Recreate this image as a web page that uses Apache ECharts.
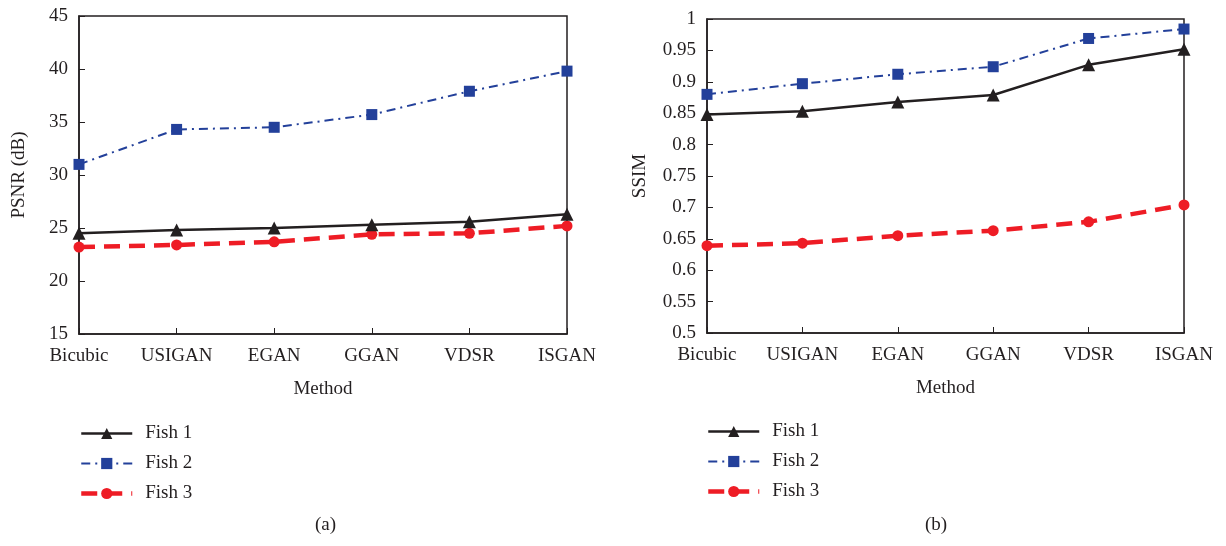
<!DOCTYPE html>
<html>
<head>
<meta charset="utf-8">
<script src="https://cdn.jsdelivr.net/npm/echarts@6/dist/echarts.min.js"></script>
<style>
html,body{margin:0;padding:0;background:#fff;}
#main{width:1226px;height:546px;}
</style>
</head>
<body>
<div id="main"></div>
<script>
let methods=["Bicubic","USIGAN","EGAN","GGAN","VDSR","ISGAN"];
let names=["Fish 1","Fish 2","Fish 3"];
let psnr1=[24.5,24.8,25.0,25.3,25.6,26.3];
let psnr2=[31.0,34.3,34.5,35.7,37.9,39.8];
let psnr3=[23.2,23.4,23.7,24.4,24.5,25.2];
let ssim1=[0.848,0.853,0.868,0.879,0.927,0.952];
let ssim2=[0.880,0.897,0.912,0.924,0.969,0.984];
let ssim3=[0.639,0.643,0.655,0.663,0.677,0.704];

let font="Liberation Serif";
let fs=19;
let ink="#231f20";
// one look per fish, same in both panels
let looks=[
	{color:ink,line:{width:2.5,type:"solid"},symbol:"triangle",size:13},
	{color:"#23409a",line:{width:2,type:[9,5,2,5]},symbol:"rect",size:11},
	{color:"#ee1c25",line:{width:4.5,type:[16,9]},symbol:"circle",size:11}
];

function mkSeries(data,i,idx){
	let l=looks[i];
	return {
		name:names[i],
		type:"line",
		xAxisIndex:idx,
		yAxisIndex:idx,
		data:data,
		symbol:l.symbol,
		symbolSize:l.size,
		showAllSymbol:true,
		itemStyle:{color:l.color},
		lineStyle:{color:l.color,width:l.line.width,type:l.line.type},
		z:10-i
	};
}

function xAx(idx){
	return {
		type:"category",
		gridIndex:idx,
		data:methods,
		boundaryGap:false,
		name:"Method",
		nameLocation:"middle",
		nameGap:46,
		nameTextStyle:{fontFamily:font,fontSize:fs,color:ink},
		axisLine:{lineStyle:{color:ink,width:1.5}},
		axisTick:{inside:true,length:6,lineStyle:{color:ink,width:1}},
		axisLabel:{fontFamily:font,fontSize:fs,color:ink,margin:13,interval:0},
		splitLine:{show:false}
	};
}

function yAx(idx,min,max,step,name,gap){
	return {
		type:"value",
		gridIndex:idx,
		min:min,max:max,interval:step,
		name:name,
		nameLocation:"middle",
		nameGap:gap,
		nameTextStyle:{fontFamily:font,fontSize:fs,color:ink},
		axisLine:{show:true,lineStyle:{color:ink,width:1.5}},
		axisTick:{show:true,inside:true,length:6,lineStyle:{color:ink,width:1}},
		axisLabel:{fontFamily:font,fontSize:fs,color:ink,margin:11},
		splitLine:{show:false}
	};
}

// legend icons drawn with the full series line width
let legendData=names.map(function(n,i){
	return {name:n,lineStyle:{width:looks[i].line.width,type:looks[i].line.type,color:looks[i].color}};
});
let legendBase={
	orient:"vertical",
	data:legendData,
	itemWidth:51,
	itemHeight:14,
	itemGap:11,
	selectedMode:false,
	textStyle:{fontFamily:font,fontSize:fs,color:ink,padding:[0,0,0,8]}
};

let chart=echarts.init(document.getElementById("main"),null,{renderer:"canvas"});
chart.setOption({
	backgroundColor:"#fff",
	animation:false,
	grid:[
		{left:79,right:659,top:16,bottom:212,show:true,borderColor:ink,borderWidth:1.5,backgroundColor:"transparent"},
		{left:707,right:42,top:19,bottom:213,show:true,borderColor:ink,borderWidth:1.5,backgroundColor:"transparent"}
	],
	xAxis:[xAx(0),xAx(1)],
	yAxis:[
		yAx(0,15,45,5,"PSNR (dB)",50),
		yAx(1,0.5,1,0.05,"SSIM",57)
	],
	legend:[
		Object.assign({left:74,top:419},legendBase),
		Object.assign({left:701,top:417},legendBase)
	],
	title:[
		{text:"(a)",left:310,top:511,textStyle:{fontFamily:font,fontSize:fs,fontWeight:"normal",color:ink}},
		{text:"(b)",left:920,top:511,textStyle:{fontFamily:font,fontSize:fs,fontWeight:"normal",color:ink}}
	],
	series:[
		mkSeries(psnr1,0,0),mkSeries(psnr2,1,0),mkSeries(psnr3,2,0),
		mkSeries(ssim1,0,1),mkSeries(ssim2,1,1),mkSeries(ssim3,2,1)
	]
});
</script>
</body>
</html>
